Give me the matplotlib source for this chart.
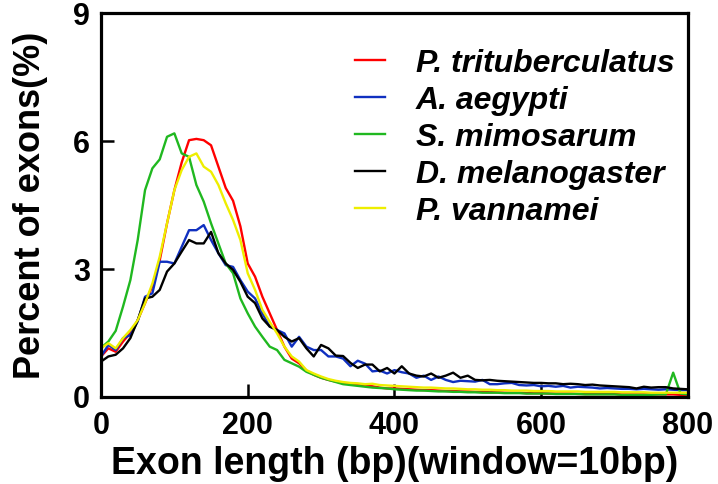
import numpy as np
import matplotlib
matplotlib.use("Agg")
import matplotlib.pyplot as plt

x_bp = list(range(0, 810, 10))

labels = ["P. trituberculatus", "A. aegypti", "S. mimosarum", "D. melanogaster", "P. vannamei"]
colors = ["#ff0000", "#1030c0", "#20b820", "#000000", "#eeee00"]

red = [0.95, 1.14, 1.06, 1.30, 1.50, 1.80, 2.20, 2.60, 3.20, 4.07,
       4.85, 5.50, 6.02, 6.05, 6.02, 5.90, 5.40, 4.90, 4.60, 4.00,
       3.13, 2.82, 2.35, 1.96, 1.57, 1.18, 0.90, 0.79, 0.62, 0.52,
       0.45, 0.40, 0.36, 0.33, 0.30, 0.28, 0.26, 0.25, 0.22, 0.20,
       0.20, 0.19, 0.18, 0.17, 0.16, 0.16, 0.15, 0.14, 0.14, 0.13,
       0.13, 0.12, 0.12, 0.11, 0.11, 0.10, 0.10, 0.10, 0.09, 0.09,
       0.09, 0.08, 0.08, 0.08, 0.08, 0.07, 0.07, 0.07, 0.07, 0.07,
       0.07, 0.06, 0.06, 0.06, 0.06, 0.06, 0.06, 0.06, 0.06, 0.05, 0.05]

blue = [0.95, 1.22, 1.10, 1.38, 1.45, 1.77, 2.35, 2.43, 3.17, 3.17,
        3.13, 3.52, 3.91, 3.91, 4.03, 3.68, 3.37, 3.09, 3.05, 2.74,
        2.47, 2.31, 1.96, 1.65, 1.57, 1.49, 1.18, 1.41, 1.18, 1.10,
        1.10, 0.95, 0.95, 0.90, 0.72, 0.85, 0.78, 0.60, 0.62, 0.55,
        0.63, 0.58, 0.55, 0.45, 0.50, 0.40, 0.48, 0.40, 0.35, 0.38,
        0.37, 0.36, 0.40, 0.30, 0.30, 0.32, 0.33, 0.28, 0.27, 0.28,
        0.25, 0.26, 0.24, 0.26, 0.22, 0.24, 0.23, 0.22, 0.20, 0.21,
        0.20, 0.19, 0.19, 0.18, 0.19, 0.18, 0.17, 0.18, 0.17, 0.16, 0.16]

green = [1.15, 1.30, 1.55, 2.12, 2.74, 3.68, 4.85, 5.36, 5.57, 6.10,
         6.18, 5.71, 5.63, 4.97, 4.58, 4.07, 3.60, 3.13, 2.90, 2.31,
         1.96, 1.65, 1.41, 1.18, 1.10, 0.87, 0.79, 0.71, 0.59, 0.52,
         0.45, 0.40, 0.35, 0.30, 0.28, 0.26, 0.24, 0.22, 0.21, 0.20,
         0.18, 0.17, 0.16, 0.15, 0.15, 0.14, 0.13, 0.13, 0.12, 0.12,
         0.11, 0.11, 0.10, 0.10, 0.10, 0.09, 0.09, 0.09, 0.08, 0.08,
         0.08, 0.08, 0.07, 0.07, 0.07, 0.07, 0.06, 0.06, 0.06, 0.06,
         0.06, 0.05, 0.05, 0.05, 0.05, 0.05, 0.06, 0.06, 0.57, 0.08, 0.06]

black = [0.83, 0.95, 0.99, 1.14, 1.38, 1.80, 2.31, 2.35, 2.51, 2.94,
         3.13, 3.41, 3.68, 3.60, 3.60, 3.87, 3.37, 3.13, 2.98, 2.70,
         2.35, 2.20, 1.84, 1.65, 1.57, 1.41, 1.30, 1.38, 1.14, 0.95,
         1.22, 1.14, 0.97, 0.96, 0.80, 0.68, 0.76, 0.76, 0.60, 0.68,
         0.55, 0.72, 0.55, 0.50, 0.48, 0.55, 0.45, 0.50, 0.57, 0.45,
         0.50, 0.40, 0.39, 0.40, 0.38, 0.37, 0.36, 0.35, 0.34, 0.33,
         0.33, 0.32, 0.32, 0.30, 0.31, 0.30, 0.28, 0.29, 0.27, 0.26,
         0.25, 0.24, 0.23, 0.20, 0.24, 0.22, 0.23, 0.23, 0.20, 0.19, 0.18]

yellow = [1.14, 1.26, 1.14, 1.38, 1.57, 1.80, 2.20, 2.66, 3.29, 4.07,
          4.85, 5.32, 5.63, 5.71, 5.40, 5.28, 4.97, 4.54, 4.15, 3.68,
          2.90, 2.51, 2.04, 1.76, 1.49, 1.18, 0.95, 0.83, 0.63, 0.55,
          0.48, 0.42, 0.38, 0.35, 0.33, 0.32, 0.30, 0.31, 0.28, 0.27,
          0.26, 0.25, 0.24, 0.23, 0.22, 0.22, 0.21, 0.20, 0.20, 0.19,
          0.18, 0.18, 0.17, 0.17, 0.16, 0.16, 0.15, 0.15, 0.15, 0.14,
          0.14, 0.14, 0.13, 0.13, 0.13, 0.13, 0.12, 0.12, 0.12, 0.12,
          0.12, 0.11, 0.11, 0.11, 0.11, 0.10, 0.10, 0.10, 0.10, 0.10, 0.10]

series = [red, blue, green, black, yellow]

x_ticks = [0, 200, 400, 600, 800]
y_ticks = [0, 3, 6, 9]

plt.rcParams['font.family'] = ['Liberation Sans', 'DejaVu Sans']
plt.rcParams['font.weight'] = 'bold'

fig = plt.figure(figsize=(7.18, 4.84), dpi=100)
ax = fig.add_axes([0.1407, 0.1798, 0.958 - 0.1407, 0.973 - 0.1798])

for vals, lab, col in zip(series, labels, colors):
    ax.plot(x_bp, vals, color=col, lw=1.7, label=lab)

ax.set_xlim(0, 800)
ax.set_ylim(0, 9)
ax.set_xticks(x_ticks)
ax.set_yticks(y_ticks)
ax.tick_params(direction='in', length=9.5, width=1.8, labelsize=22)
ax.tick_params(axis='x', pad=10)
ax.tick_params(axis='y', pad=8)
for sp in ax.spines.values():
    sp.set_linewidth(2.3)

ax.set_xlabel("Exon length (bp)(window=10bp)", fontsize=27, fontweight='bold', labelpad=4)
ax.set_ylabel("Percent of exons(%)", fontsize=26, fontweight='bold', labelpad=18)

leg = ax.legend(loc='upper left', bbox_to_anchor=(355 / 718, 1 - 48.5 / 484),
                bbox_transform=fig.transFigure, frameon=False,
                prop={'size': 23, 'weight': 'bold', 'style': 'italic'},
                handlelength=0.95, handletextpad=0.95, labelspacing=0.22, borderpad=0,
                borderaxespad=0)
for line in leg.get_lines():
    line.set_linewidth(1.7)

fig.savefig("out.png", dpi=100)
